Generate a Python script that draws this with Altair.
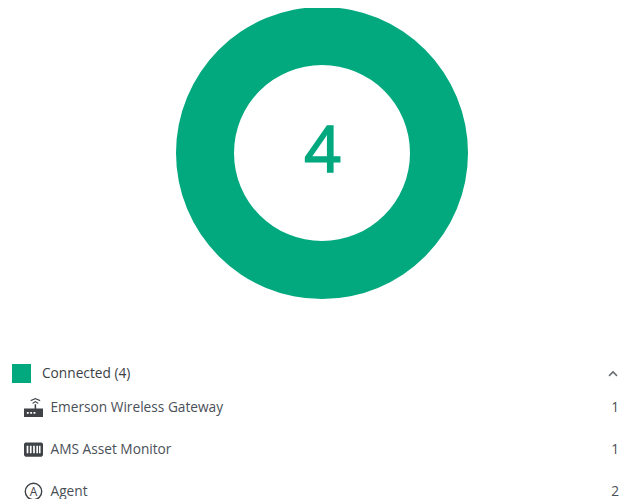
import altair as alt
import pandas as pd

GREEN = "#02A87E"
TEXT = "#4A5057"
ICON = "#3F4347"
FONT = "Open Sans"

statuses = ["Connected"]
status_totals = [4]
devices = ["Emerson Wireless Gateway", "AMS Asset Monitor", "Agent"]
device_counts = [1, 1, 2]

donut_df = pd.DataFrame({"status": statuses, "total": status_totals})
header_df = pd.DataFrame({"row": [0], "label": [f"{statuses[0]} ({status_totals[0]})"]})
rows_df = pd.DataFrame({"row": [1, 2, 3], "device": devices, "count": device_counts})

row_y = alt.Y("row:Q", axis=None,
              scale=alt.Scale(domain=[0, 1, 2, 3], range=[365.5, 399.5, 441.5, 483.5], nice=False, zero=False))

color = alt.Color("status:N", legend=None, scale=alt.Scale(domain=statuses, range=[GREEN]))

donut = alt.Chart(donut_df).mark_arc(radius=146, radius2=88).encode(
    theta=alt.Theta("total:Q"), color=color, x=alt.value(314), y=alt.value(145))

center = alt.Chart(donut_df).mark_text(
    font=FONT, fontSize=64, align="center", baseline="alphabetic", stroke=GREEN, strokeWidth=1.6
).encode(text="total:Q", color=color, x=alt.value(314.5), y=alt.value(164))

swatch = alt.Chart(header_df.assign(status=statuses)).mark_point(
    shape="square", filled=True, opacity=1, size=361
).encode(y=row_y, x=alt.value(13.5), color=color)

header = alt.Chart(header_df).mark_text(
    font=FONT, fontSize=13.7, align="left", baseline="middle", color="#3A3F45"
).encode(y=row_y, x=alt.value(34), text="label:N")

names = alt.Chart(rows_df).mark_text(
    font=FONT, fontSize=13.7, align="left", baseline="middle", color=TEXT
).encode(y=row_y, x=alt.value(42.5), text="device:N")

counts = alt.Chart(rows_df).mark_text(
    font=FONT, fontSize=13.7, align="right", baseline="middle", color=TEXT
).encode(y=row_y, x=alt.value(611), text="count:Q")

chevron = alt.Chart(header_df).mark_point(
    shape="M -1 0.6 L 0 -0.4 L 1 0.6", filled=False, opacity=1, color="#6A6E72", strokeWidth=1.5, size=64
).encode(y=row_y, x=alt.value(605))

GATEWAY = ("M -1 0.1 L 1 0.1 L 1 1 L -1 1 Z "
           "M -0.7 0.48 L -0.7 0.66 L -0.5 0.66 L -0.5 0.48 Z "
           "M -0.35 0.48 L -0.35 0.66 L -0.15 0.66 L -0.15 0.48 Z "
           "M 0 0.48 L 0 0.66 L 0.2 0.66 L 0.2 0.48 Z "
           "M 0.12 -0.35 L 0.28 -0.35 L 0.28 0.1 L 0.12 0.1 Z "
           "M -0.1 -0.5 L 0.2 -0.68 L 0.5 -0.5 L 0.5 -0.36 L 0.2 -0.54 L -0.1 -0.36 Z "
           "M -0.3 -0.78 L 0.2 -1 L 0.7 -0.78 L 0.7 -0.66 L 0.2 -0.86 L -0.3 -0.66 Z")
AMS = ("M -0.85 -0.75 L 0.85 -0.75 L 1 -0.6 L 1 0.6 L 0.85 0.75 L -0.85 0.75 L -1 0.6 L -1 -0.6 Z "
       "M -0.72 -0.4 L -0.72 0.4 L -0.54 0.4 L -0.54 -0.4 Z "
       "M -0.38 -0.4 L -0.38 0.4 L -0.2 0.4 L -0.2 -0.4 Z "
       "M -0.04 -0.4 L -0.04 0.4 L 0.14 0.4 L 0.14 -0.4 Z "
       "M 0.3 -0.4 L 0.3 0.4 L 0.48 0.4 L 0.48 -0.4 Z "
       "M 0.58 -0.4 L 0.58 0.4 L 0.74 0.4 L 0.74 -0.4 Z")

icon_gateway = alt.Chart(rows_df[rows_df["row"] == 1]).mark_point(
    shape=GATEWAY, filled=True, opacity=1, color=ICON, size=361).encode(y=row_y, x=alt.value(25.5))
icon_ams = alt.Chart(rows_df[rows_df["row"] == 2]).mark_point(
    shape=AMS, filled=True, opacity=1, color=ICON, size=361).encode(y=row_y, x=alt.value(25.5))
icon_agent = alt.Chart(rows_df[rows_df["row"] == 3]).mark_point(
    shape="circle", filled=False, opacity=1, color=ICON, strokeWidth=1.4, size=270).encode(y=row_y, x=alt.value(25.5))
icon_agent_a = alt.Chart(rows_df[rows_df["row"] == 3].assign(a="A")).mark_text(
    font=FONT, fontSize=12, align="center", baseline="middle", color=ICON).encode(y=row_y, x=alt.value(25.5), text="a:N")

chart = alt.layer(
    donut, center, swatch, header, names, counts, chevron,
    icon_gateway, icon_ams, icon_agent, icon_agent_a,
).resolve_scale(y="shared").properties(
    width=613, height=491, padding=0, background="white",
    autosize=alt.AutoSizeParams(type="none")
).configure_view(stroke=None)

chart.save("out.html", embed_options={"renderer": "svg", "actions": False})
